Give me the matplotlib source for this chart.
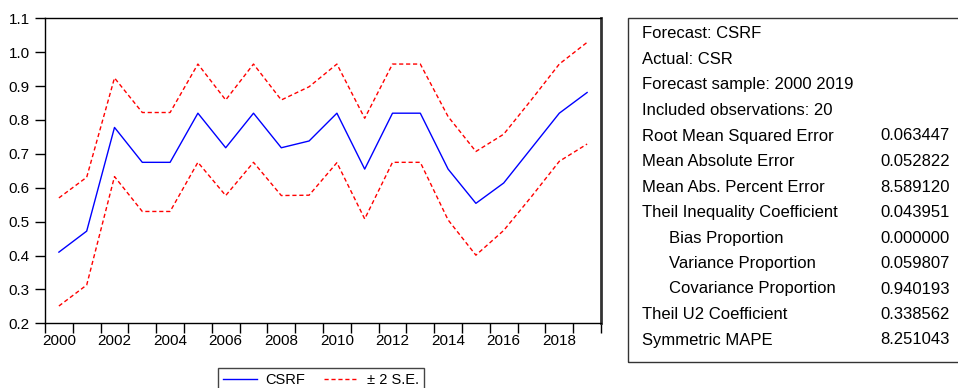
import matplotlib
matplotlib.use("Agg")
import matplotlib.pyplot as plt
from matplotlib.patches import Rectangle
from matplotlib.ticker import FixedLocator, FormatStrFormatter

plt.rcParams['font.family'] = ['Liberation Sans', 'DejaVu Sans']

# forecast results
years = list(range(2000, 2020))
csrf = [0.410, 0.472, 0.778, 0.675, 0.675, 0.820, 0.718, 0.820, 0.718, 0.738,
        0.820, 0.655, 0.820, 0.820, 0.655, 0.554, 0.614, 0.717, 0.820, 0.881]
upper = [0.570, 0.631, 0.924, 0.822, 0.822, 0.965, 0.859, 0.965, 0.859, 0.898,
         0.965, 0.805, 0.965, 0.965, 0.810, 0.707, 0.758, 0.860, 0.965, 1.029]
lower = [0.251, 0.313, 0.633, 0.530, 0.530, 0.675, 0.577, 0.675, 0.577, 0.578,
         0.674, 0.508, 0.675, 0.675, 0.505, 0.401, 0.474, 0.574, 0.678, 0.729]

stat_labels = ["Forecast: CSRF", "Actual: CSR", "Forecast sample: 2000 2019",
               "Included observations: 20", "Root Mean Squared Error",
               "Mean Absolute Error", "Mean Abs. Percent Error",
               "Theil Inequality Coefficient", "Bias Proportion",
               "Variance Proportion", "Covariance Proportion",
               "Theil U2 Coefficient", "Symmetric MAPE"]
stat_values = ["", "", "", "", "0.063447", "0.052822", "8.589120", "0.043951",
               "0.000000", "0.059807", "0.940193", "0.338562", "8.251043"]
stat_indent = [0, 0, 0, 0, 0, 0, 0, 0, 1, 1, 1, 0, 0]

title = "Figure 3: Forecasting Results of Corporate Social Responsibility Model"

W, H = 958, 388
fig = plt.figure(figsize=(W / 100, H / 100), dpi=100)

def fx(px):
    return px / W

def fy(py):
    return 1 - py / H

ax = fig.add_axes([fx(45), fy(323.3), fx(601 - 45), (323.3 - 18.3) / H])

ax.plot(years, csrf, color='#0000ff', lw=1.0, label='CSRF')
ax.plot(years, upper, color='#ff0000', lw=1.0, ls=(0, (3, 2)), label='± 2 S.E.')
ax.plot(years, lower, color='#ff0000', lw=1.0, ls=(0, (3, 2)))

ax.set_xlim(1999.5, 2019.5)
ax.set_ylim(0.2, 1.1)

ax.xaxis.set_major_locator(FixedLocator(years[::2]))
ax.xaxis.set_minor_locator(FixedLocator([y + 0.5 for y in range(1999, 2020)]))
ax.tick_params(axis='x', which='major', length=0, pad=8, labelsize=11)
ax.tick_params(axis='x', which='minor', length=7, width=1, direction='out')
ax.set_yticks([0.2, 0.3, 0.4, 0.5, 0.6, 0.7, 0.8, 0.9, 1.0, 1.1])
ax.yaxis.set_major_formatter(FormatStrFormatter('%.1f'))
ax.tick_params(axis='y', length=7, width=1, pad=4, labelsize=11)

for s in ['left', 'bottom', 'top']:
    ax.spines[s].set_linewidth(1.0)
ax.spines['right'].set_linewidth(2.0)
ax.spines['right'].set_color('#333333')

# title, mostly cut off by the top edge as in the source
fig.text(fx(485), fy(-5.5), title, ha='center', va='baseline',
         fontsize=16.5, fontweight='bold', family='Liberation Serif')

# statistics box
fig.patches.append(Rectangle((fx(628), fy(362)), fx(340), (362 - 18) / H,
                             transform=fig.transFigure, fill=False,
                             edgecolor='#333333', lw=1.0))
for i, (lab, val) in enumerate(zip(stat_labels, stat_values)):
    yy = fy(34 + 25.5 * i)
    fig.text(fx(642 + 27 * stat_indent[i]), yy, lab, ha='left', va='center',
             fontsize=12)
    if val:
        fig.text(fx(880), yy, val, ha='left', va='center', fontsize=12)

leg = fig.legend(loc='upper left', bbox_to_anchor=(fx(218), fy(368)), ncol=2,
                 frameon=True, fancybox=False, edgecolor='#444444',
                 framealpha=1, fontsize=10.5, handlelength=2.3,
                 handletextpad=0.6, columnspacing=1.3, borderpad=0.35,
                 borderaxespad=0)
leg.get_frame().set_linewidth(1.0)

fig.savefig("out.png", dpi=100)
